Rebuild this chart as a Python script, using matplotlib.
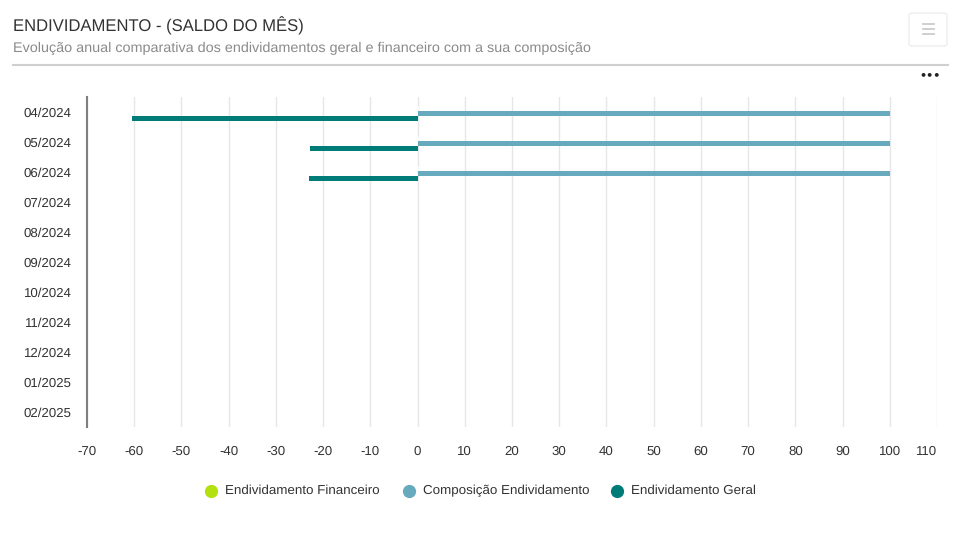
import matplotlib
matplotlib.use("Agg")
import matplotlib.pyplot as plt
from matplotlib.patches import FancyBboxPatch
from matplotlib.lines import Line2D
import numpy as np

plt.rcParams['font.family'] = ['Liberation Sans', 'DejaVu Sans']
plt.rcParams['text.hinting'] = 'no_hinting'

categories = ["04/2024", "05/2024", "06/2024", "07/2024", "08/2024", "09/2024",
              "10/2024", "11/2024", "12/2024", "01/2025", "02/2025"]
end_financeiro = [0, 0, 0]
composicao = [100, 100, 100]
end_geral = [-60.5, -22.8, -23.0]
x_ticks = list(range(-70, 111, 10))

c_fin = "#b2e010"
c_comp = "#67aabd"
c_geral = "#007c78"

W, H = 964, 535
fig = plt.figure(figsize=(W / 100, H / 100), dpi=100)
fig.patch.set_facecolor("white")

ax = fig.add_axes([87 / W, (H - 427) / H, (937 - 87) / W, (427 - 97) / H])
ax.set_xlim(-70, 110)
ax.set_ylim(len(categories) - 0.5, -0.5)

bh = 0.16
y = np.arange(len(end_geral))
ax.barh(y - 0.125, end_financeiro, height=bh, color=c_fin, edgecolor="white", linewidth=0.6, zorder=3)
ax.barh(y + 0.045, composicao, height=bh, color=c_comp, edgecolor="none", linewidth=0, zorder=3)
ax.barh(y + 0.21, end_geral, height=bh, color=c_geral, edgecolor="none", linewidth=0, zorder=3)

ax.set_xticks(x_ticks)
ax.set_xticklabels([str(t) for t in x_ticks])
ax.get_xticklabels()[-1].set_horizontalalignment("right")
ax.set_yticks(range(len(categories)))
ax.set_yticklabels(categories)
ax.grid(axis="x", color="#e6e6e6", linewidth=1, zorder=0)
ax.grid(axis="y", visible=False)
for s in ["top", "right", "bottom"]:
    ax.spines[s].set_visible(False)
ax.spines["left"].set_color("#7f7f7f")
ax.spines["left"].set_linewidth(1.5)
ax.tick_params(axis="both", length=0, labelsize=9.5, colors="#333333")
ax.tick_params(axis="x", pad=13.5)
ax.tick_params(axis="y", pad=11)

# Title and subtitle
fig.text(13 / W, 1 - 26 / H, "ENDIVIDAMENTO - (SALDO DO MÊS)", fontsize=12,
         color="#333333", va="center", ha="left")
fig.text(13 / W, 1 - 48.5 / H,
         "Evolução anual comparativa dos endividamentos geral e financeiro com a sua composição",
         fontsize=10.4, color="#8a8a8a", va="center", ha="left")
fig.add_artist(Line2D([13 / W, 948 / W], [1 - 65 / H, 1 - 65 / H], color="#d0d0d0", linewidth=1.5))

# Menu button
btn = FancyBboxPatch((909 / W, 1 - 46 / H), 38 / W, 33 / H,
                     boxstyle="round,pad=0,rounding_size=0.004",
                     transform=fig.transFigure, facecolor="white",
                     edgecolor="#eeeeee", linewidth=1)
fig.add_artist(btn)
for yy in [24, 29, 34]:
    fig.add_artist(Line2D([923 / W, 934 / W], [1 - yy / H, 1 - yy / H], color="#cccccc", linewidth=1.3))
fig.text(930 / W, 1 - 75 / H, "•••", fontsize=8, color="#222222", ha="center", va="center",
         family=["DejaVu Sans"], fontweight="bold")

# Legend
leg_items = [("Endividamento Financeiro", c_fin, 211),
             ("Composição Endividamento", c_comp, 409),
             ("Endividamento Geral", c_geral, 617)]
for label, col, xp in leg_items:
    fig.add_artist(Line2D([xp / W], [1 - 491 / H], marker="o", markersize=8.5,
                          color=col, linestyle="none"))
    fig.text((xp + 14) / W, 1 - 491 / H, label, fontsize=9.6, color="#333333",
             va="center", ha="left")

fig.savefig("out.png", dpi=100, facecolor="white")
